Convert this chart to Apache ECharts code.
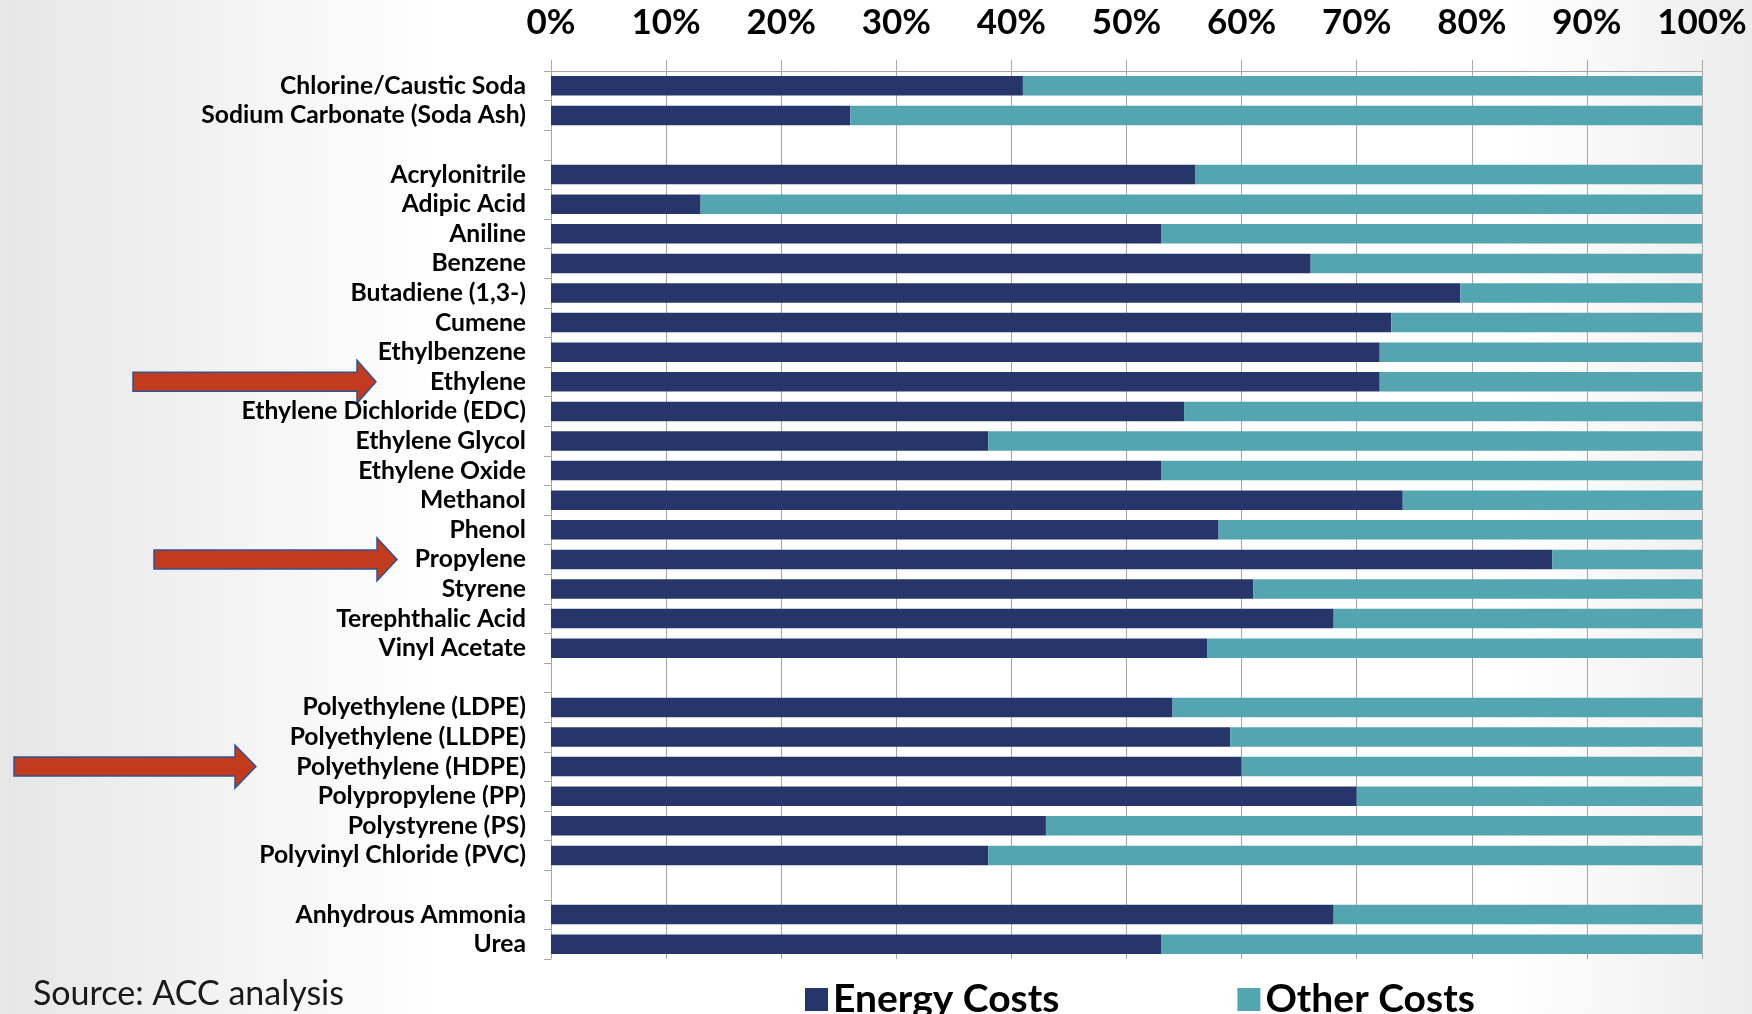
<!DOCTYPE html>
<html>
<head>
<meta charset="utf-8">
<script src="https://cdn.jsdelivr.net/npm/echarts@6/dist/echarts.min.js"></script>
<style>
  html, body { margin: 0; padding: 0; }
  #chart { width: 1752px; height: 1014px; }
</style>
</head>
<body>
<div id="chart"></div>
<script>
// categories, top to bottom (blank rows separate the groups)
const categories = [
  'Chlorine/Caustic Soda', 'Sodium Carbonate (Soda Ash)', ' ',
  'Acrylonitrile', 'Adipic Acid', 'Aniline', 'Benzene', 'Butadiene (1,3-)',
  'Cumene', 'Ethylbenzene', 'Ethylene', 'Ethylene Dichloride (EDC)',
  'Ethylene Glycol', 'Ethylene Oxide', 'Methanol', 'Phenol', 'Propylene',
  'Styrene', 'Terephthalic Acid', 'Vinyl Acetate', '  ',
  'Polyethylene (LDPE)', 'Polyethylene (LLDPE)', 'Polyethylene (HDPE)',
  'Polypropylene (PP)', 'Polystyrene (PS)', 'Polyvinyl Chloride (PVC)', '   ',
  'Anhydrous Ammonia', 'Urea'
]

// share of production cost, %
const energyCosts = [
  41, 26, null,
  56, 13, 53, 66, 79, 73, 72, 72, 55, 38, 53, 74, 58, 87, 61, 68, 57, null,
  54, 59, 60, 70, 43, 38, null,
  68, 53
]
const otherCosts = [
  59, 74, null,
  44, 87, 47, 34, 21, 27, 28, 28, 45, 62, 47, 26, 42, 13, 39, 32, 43, null,
  46, 41, 40, 30, 57, 62, null,
  32, 47
]

const seriesNames = ['Energy Costs', 'Other Costs']

// arrows pointing at the highlighted rows
const arrows = [
  { row: 'Ethylene', x0: 133, x1: 357, tip: 376 },
  { row: 'Propylene', x0: 154, x1: 377, tip: 397 },
  { row: 'Polyethylene (HDPE)', x0: 14, x1: 235, tip: 256 }
]

const chart = echarts.init(document.getElementById('chart'))
const font = 'Lato, "DejaVu Sans", sans-serif'

chart.setOption({
  backgroundColor: {
    type: 'linear', x: 0, y: 0, x2: 1, y2: 0,
    colorStops: [
      { offset: 0, color: '#e6e6e6' },
      { offset: 0.25, color: '#ffffff' },
      { offset: 0.86, color: '#ffffff' },
      { offset: 1, color: '#ececec' }
    ]
  },
  textStyle: { fontFamily: font },
  animation: false,
  grid: { left: 551, right: 50, top: 71, bottom: 55 },
  legend: {
    data: seriesNames,
    left: 800,
    top: 975,
    itemWidth: 23,
    itemHeight: 23,
    itemGap: 178,
    icon: 'rect',
    textStyle: { fontSize: 39, fontWeight: 'bold', color: '#000', fontFamily: font }
  },
  xAxis: {
    type: 'value',
    position: 'top',
    min: 0,
    max: 100,
    interval: 10,
    axisLine: { show: true, lineStyle: { color: '#a6a6a6' } },
    axisTick: { show: true, length: 11, lineStyle: { color: '#a6a6a6' } },
    splitLine: { show: true, lineStyle: { color: '#a6a6a6' } },
    axisLabel: {
      margin: 31,
      fontSize: 35,
      fontWeight: 'bold',
      color: '#000',
      formatter: v => v + '%'
    }
  },
  yAxis: {
    type: 'category',
    data: categories,
    inverse: true,
    axisLine: { show: true, lineStyle: { color: '#a6a6a6' } },
    axisTick: { show: true, length: 7, lineStyle: { color: '#a6a6a6' } },
    axisLabel: {
      margin: 25,
      fontSize: 24.7,
      fontWeight: 'bold',
      color: '#000',
      interval: 0
    }
  },
  series: [
    {
      name: seriesNames[0],
      type: 'bar',
      stack: 'cost',
      data: energyCosts,
      barCategoryGap: '34%',
      itemStyle: { color: '#27366a' }
    },
    {
      name: seriesNames[1],
      type: 'bar',
      stack: 'cost',
      data: otherCosts,
      itemStyle: { color: '#53a5b0' }
    }
  ]
})

// source note + arrows next to their rows
const graphics = [{
  type: 'text',
  left: 33,
  top: 977,
  style: { text: 'Source: ACC analysis', font: '34px ' + font, fill: '#1a1a1a' }
}]
arrows.forEach(a => {
  const y = chart.convertToPixel({ yAxisIndex: 0 }, a.row)
  graphics.push({
    type: 'polygon',
    shape: {
      points: [
        [a.x0, y - 9.5], [a.x1, y - 9.5], [a.x1, y - 21.5], [a.tip, y],
        [a.x1, y + 21.5], [a.x1, y + 9.5], [a.x0, y + 9.5]
      ]
    },
    style: { fill: '#c23b1d', stroke: '#2f5496', lineWidth: 1.5 }
  })
})
chart.setOption({ graphic: graphics })

window.addEventListener('resize', () => chart.resize())
</script>
</body>
</html>
